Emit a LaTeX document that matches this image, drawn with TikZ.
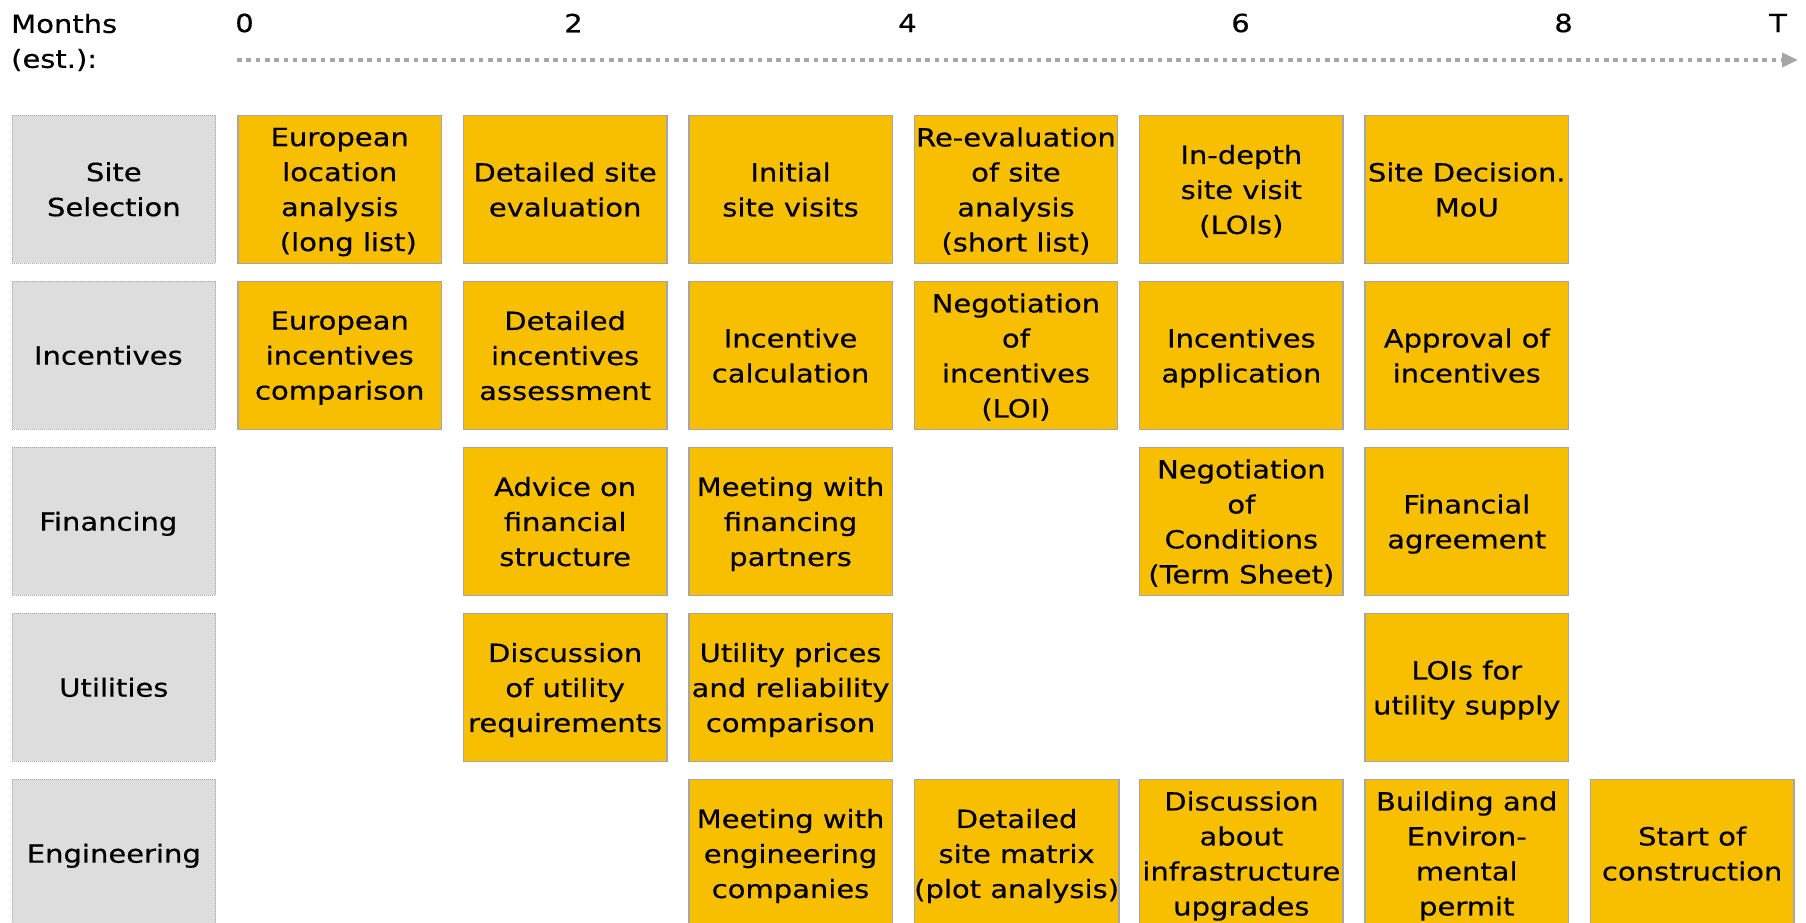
\documentclass[tikz,border=0pt]{standalone}
\usepackage{fontspec}
\setmainfont{DejaVu Sans}[FakeStretch=1.16, FakeBold=0.5]
\usetikzlibrary{arrows.meta}
\definecolor{taskfill}{HTML}{F8BE00}
\definecolor{taskline}{HTML}{A6A6A6}
\definecolor{headfill}{HTML}{DDDDDD}
\definecolor{axisgray}{HTML}{A6A6A6}
\begin{document}
\begin{tikzpicture}[x=1pt, y=-1pt,
  txt/.style={font=\fontsize{25}{35}\selectfont, align=center, inner sep=0pt},
  % zero text depth: descenders of the last line do not shift the block
  cell/.style={txt, anchor=north west, minimum width=203.5pt, minimum height=147.5pt,
    text depth=0pt},
  task/.style={cell, fill=taskfill, draw=taskline, line width=1.4pt},
  rowhead/.style={cell, fill=headfill, draw=taskline, line width=0.8pt, dash pattern=on 1pt off 1pt},
  tick/.style={txt, anchor=center},
  axis/.style={draw=axisgray, line width=4.6pt, dash pattern=on 4.6pt off 4.7pt,
    -{Triangle[length=16pt, width=14pt]}}
]
\useasboundingbox (0,0) rectangle (1806,922);
\clip (0,0) rectangle (1806,922);

% time axis
\node[txt, align=left, anchor=west] (months) at (11,42.5) {Months\\(est.):};
\node[tick] (m0) at (244.5,23) {0};
\node[tick] (m2) at (573.5,23) {2};
\node[tick] (m4) at (907.5,23) {4};
\node[tick] (m6) at (1240.5,23) {6};
\node[tick] (m8) at (1563.5,23) {8};
\node[tick] (mT) at (1778,23) {T};
\coordinate (axstart) at (237,60);
\coordinate (axend) at (1798,60);
\draw[axis] (axstart) -- (axend);

% row headers
\node[rowhead] (hsite) at (11.7,115) {Site\\Selection};
\node[rowhead] (hinc)  at (11.7,281) {Incentives\kern11pt};
\node[rowhead] (hfin)  at (11.7,447) {Financing\kern11pt};
\node[rowhead] (hutil) at (11.7,613) {Utilities};
\node[rowhead] (heng)  at (11.7,779) {Engineering};

% site selection
\node[task] (s0) at (237.3,115) {European\\location\\analysis\\\hphantom{x}(long list)};
\node[task] (s1) at (462.7,115) {Detailed site\\evaluation};
\node[task] (s2) at (688.1,115) {Initial\\site visits};
\node[task] (s3) at (913.5,115) {Re-evaluation\\of site\\analysis\\(short list)};
\node[task] (s4) at (1138.9,115) {In-depth\\site visit\\(LOIs)};
\node[task] (s5) at (1364.3,115) {Site Decision.\\MoU};

% incentives
\node[task] (i0) at (237.3,281) {European\\incentives\\comparison};
\node[task] (i1) at (462.7,281) {Detailed\\incentives\\assessment};
\node[task] (i2) at (688.1,281) {Incentive\\calculation};
\node[task] (i3) at (913.5,281) {Negotiation\\of\\incentives\\(LOI)};
\node[task] (i4) at (1138.9,281) {Incentives\\application};
\node[task] (i5) at (1364.3,281) {Approval of\\incentives};

% financing
\node[task] (f1) at (462.7,447) {Advice on\\financial\\structure};
\node[task] (f2) at (688.1,447) {Meeting with\\financing\\partners};
\node[task] (f4) at (1138.9,447) {Negotiation\\of\\Conditions\\(Term Sheet)};
\node[task] (f5) at (1364.3,447) {Financial\\agreement};

% utilities
\node[task] (u1) at (462.7,613) {Discussion\\of utility\\requirements};
\node[task] (u2) at (688.1,613) {Utility prices\\and reliability\\comparison};
\node[task] (u5) at (1364.3,613) {LOIs for\\utility supply};

% engineering
\node[task] (e2) at (688.1,779) {Meeting with\\engineering\\companies};
\node[task] (e3) at (913.5,779) {Detailed\\site matrix\\(plot analysis)};
\node[task] (e4) at (1138.9,779) {Discussion\\about\\infrastructure\\upgrades};
\node[task] (e5) at (1364.3,779) {Building and\\Environ-\\mental\\permit};
\node[task] (e6) at (1589.7,779) {Start of\\construction};
\end{tikzpicture}
\end{document}
